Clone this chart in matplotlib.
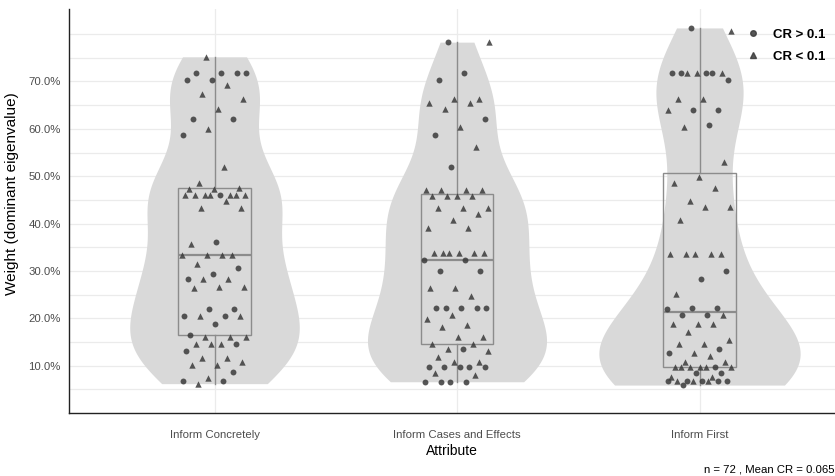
import numpy as np
import matplotlib
matplotlib.use("Agg")
import matplotlib.pyplot as plt
from matplotlib.lines import Line2D

plt.rcParams['font.family'] = ['Liberation Sans', 'DejaVu Sans']

categories = ["Inform Concretely", "Inform Cases and Effects", "Inform First"]

# weights per attribute (fraction)
w_concretely = [0.752, 0.718, 0.718, 0.718, 0.718, 0.704, 0.704, 0.692, 0.674, 0.664,
                0.641, 0.620, 0.620, 0.599, 0.588, 0.520, 0.485, 0.476, 0.474, 0.473,
                0.461, 0.461, 0.461, 0.461, 0.461, 0.461, 0.461, 0.461, 0.447, 0.433,
                0.433, 0.361, 0.356, 0.333, 0.333, 0.333, 0.333, 0.314, 0.307, 0.293,
                0.283, 0.283, 0.283, 0.266, 0.266, 0.263, 0.220, 0.220, 0.204, 0.204,
                0.204, 0.204, 0.187, 0.165, 0.160, 0.160, 0.160, 0.146, 0.146, 0.146,
                0.146, 0.131, 0.116, 0.116, 0.108, 0.101, 0.101, 0.087, 0.073, 0.068,
                0.068, 0.062]
# c = CR > 0.1 (circle), t = CR < 0.1 (triangle)
cr_concretely = ("t" "cccc" "cc" "t" "t" "t" "t" "cc" "t" "c" "t" "t" "ttt" "tttctttt"
                 "t" "tt" "c" "t" "tttt" "t" "c" "c" "ctt" "ttt" "cc" "cctt" "c" "c"
                 "ttt" "ttct" "c" "tt" "t" "tt" "c" "t" "cc" "t")

w_cases = [0.783, 0.783, 0.718, 0.704, 0.664, 0.664, 0.655, 0.655, 0.641, 0.620,
           0.604, 0.588, 0.562, 0.520, 0.471, 0.470, 0.470, 0.470, 0.459, 0.459,
           0.459, 0.459, 0.433, 0.433, 0.433, 0.421, 0.408, 0.391, 0.391, 0.337,
           0.337, 0.337, 0.337, 0.337, 0.337, 0.322, 0.322, 0.300, 0.300, 0.264,
           0.264, 0.248, 0.221, 0.221, 0.221, 0.221, 0.221, 0.206, 0.199, 0.186,
           0.182, 0.160, 0.160, 0.146, 0.146, 0.136, 0.131, 0.136, 0.118, 0.108,
           0.108, 0.097, 0.097, 0.097, 0.097, 0.097, 0.085, 0.080, 0.066, 0.066,
           0.066, 0.066]
cr_cases = ("ct" "c" "c" "tt" "tt" "t" "c" "t" "c" "t" "c" "t" "ttt" "tttt" "ttt" "t"
            "t" "tt" "tttttt" "cc" "cc" "tt" "t" "ccccc" "t" "t" "tt" "tt" "tt" "ttc"
            "t" "tt" "ccccc" "tt" "cccc")

w_first = [0.813, 0.807, 0.718, 0.718, 0.718, 0.718, 0.718, 0.718, 0.718, 0.704,
           0.662, 0.662, 0.640, 0.640, 0.640, 0.608, 0.604, 0.531, 0.498, 0.485,
           0.475, 0.448, 0.435, 0.435, 0.408, 0.336, 0.336, 0.336, 0.336, 0.336,
           0.299, 0.283, 0.251, 0.222, 0.222, 0.219, 0.206, 0.206, 0.206, 0.188,
           0.188, 0.188, 0.172, 0.155, 0.146, 0.146, 0.136, 0.127, 0.127, 0.120,
           0.108, 0.108, 0.097, 0.097, 0.097, 0.097, 0.097, 0.097, 0.097, 0.085,
           0.085, 0.076, 0.076, 0.068, 0.068, 0.068, 0.068, 0.068, 0.068, 0.068,
           0.068, 0.059]
cr_first = ("ct" "ccttcct" "c" "tt" "cct" "c" "t" "t" "t" "t" "t" "t" "tt" "t" "ttttt"
            "c" "c" "t" "ccc" "cct" "ttt" "t" "t" "tt" "c" "tc" "t" "tt" "ttctttt" "cc"
            "tt" "ccctctct" "c")

weights = [w_concretely, w_cases, w_first]
cr_flags = [cr_concretely, cr_cases, cr_first]

y_ticks = [0.1, 0.2, 0.3, 0.4, 0.5, 0.6, 0.7]
caption = "n = 72 , Mean CR = 0.065"

W, H = 835, 476
fig = plt.figure(figsize=(W / 100, H / 100), dpi=100)
ax = fig.add_axes([69 / W, (H - 413) / H, (W - 69) / W, (413 - 9) / H])

positions = np.arange(1, len(categories) + 1)


def kde_nrd0(x, grid):
    x = np.asarray(x, float)
    n = len(x)
    sd = np.std(x, ddof=1)
    iqr = np.subtract(*np.percentile(x, [75, 25]))
    lo = min(sd, iqr / 1.34)
    bw = 0.9 * lo * n ** (-0.2)
    d = (grid[:, None] - x[None, :]) / bw
    return np.exp(-0.5 * d ** 2).sum(axis=1) / (n * bw * np.sqrt(2 * np.pi))


grids, dens = [], []
for vals in weights:
    g = np.linspace(min(vals), max(vals), 512)
    grids.append(g)
    dens.append(kde_nrd0(vals, g))
dmax = max(d.max() for d in dens)
half_w = 0.415
for pos, g, d in zip(positions, grids, dens):
    hw = d / dmax * half_w
    ax.fill_betweenx(g, pos - hw, pos + hw, color="#D9D9D9", lw=0, zorder=1)

box_col = "#8C8C8C"
ax.boxplot(weights, positions=positions, widths=0.3, whis=1.5, showfliers=False,
           showcaps=False, patch_artist=True, manage_ticks=False,
           boxprops=dict(facecolor="none", edgecolor=box_col, linewidth=1.0),
           whiskerprops=dict(color=box_col, linewidth=1.0),
           medianprops=dict(color=box_col, linewidth=1.6), zorder=2)

pt_col = "#3A3A3A"
for pos, vals, flags in zip(positions, weights, cr_flags):
    vals = np.asarray(vals)
    n = len(vals)
    idx = np.arange(n)
    off = ((idx * 0.6180339887 + 0.37) % 1.0 - 0.5) * 0.27
    xs = pos + off
    fl = np.array(list(flags))
    m_c = fl == "c"
    ax.scatter(xs[m_c], vals[m_c], marker="o", s=18, color=pt_col, alpha=0.85,
               linewidths=0, zorder=3)
    ax.scatter(xs[~m_c], vals[~m_c], marker="^", s=21, color=pt_col, alpha=0.85,
               linewidths=0, zorder=3)

ax.set_xlim(0.4, 0.4 + (W - 69) / 242.5)
ax.set_ylim(0.0, 0.853)
ax.set_yticks(y_ticks)
ax.set_yticklabels([f"{v * 100:.1f}%" for v in y_ticks])
ax.set_yticks(np.arange(0.05, 0.81, 0.05), minor=True)
ax.set_xticks(positions)
ax.set_xticklabels(categories)
ax.tick_params(axis="both", which="both", length=0, labelsize=8.2, labelcolor="#4D4D4D")
ax.tick_params(axis="x", pad=12)
ax.tick_params(axis="y", pad=6)
ax.grid(True, which="both", axis="y", color="#EBEBEB", lw=0.9, zorder=0)
ax.grid(True, which="major", axis="x", color="#EBEBEB", lw=0.9, zorder=0)
ax.set_axisbelow(True)
for s in ["top", "right"]:
    ax.spines[s].set_visible(False)
for s in ["left", "bottom"]:
    ax.spines[s].set_color("#222222")
    ax.spines[s].set_linewidth(1.0)

ax.set_xlabel("Attribute", fontsize=10, labelpad=3)
ax.set_ylabel("Weight (dominant eigenvalue)", fontsize=11)
ax.yaxis.set_label_coords((19 - 69) / (W - 69), (413 - 194) / (413 - 9))

handles = [Line2D([], [], marker="o", ls="none", color=pt_col, markersize=4, alpha=0.85),
           Line2D([], [], marker="^", ls="none", color=pt_col, markersize=4.5, alpha=0.85)]
leg = fig.legend(handles, ["CR > 0.1", "CR < 0.1"], loc="upper right",
                 bbox_to_anchor=(1.003, 0.965), frameon=False,
                 prop={"size": 9.5, "weight": "bold"}, handletextpad=0.9,
                 labelspacing=0.75, handlelength=1.2)

fig.text(834 / W, (H - 469) / H, caption, ha="right", va="center", fontsize=8.2)

fig.savefig("out.png", dpi=100)
